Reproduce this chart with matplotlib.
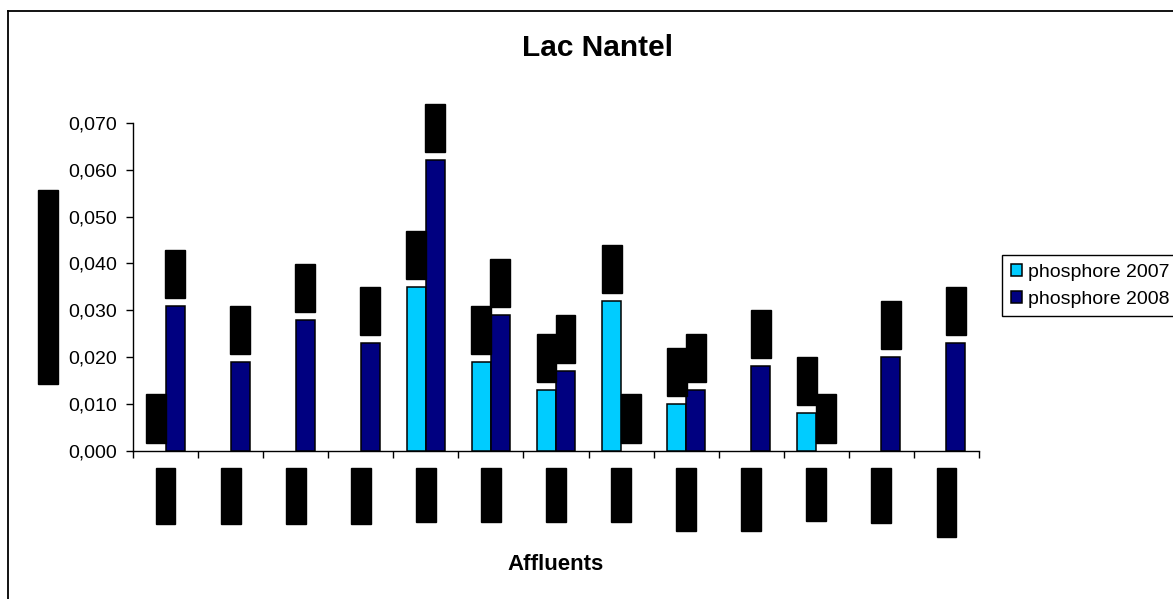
import numpy as np
import matplotlib
matplotlib.use("Agg")
import matplotlib.pyplot as plt
from matplotlib.lines import Line2D
from matplotlib.patches import Patch
from matplotlib.ticker import FixedLocator, FuncFormatter

plt.rcParams["font.family"] = ["Liberation Sans", "DejaVu Sans"]

# ---- data -------------------------------------------------------------
affluents = ["NO-01", "NO-02", "NO-03", "NO-04", "NE-05", "NE-06", "NE-07",
             "NE-08", "SE-09a", "SE-10a", "SO-11", "SO-12", "Exutoire"]
phosphore_2007 = [0.000, None, None, None, 0.035, 0.019, 0.013, 0.032,
                  0.010, None, 0.008, None, None]
phosphore_2008 = [0.031, 0.019, 0.028, 0.023, 0.062, 0.029, 0.017, 0.000,
                  0.013, 0.018, 0.000, 0.020, 0.023]
series_labels = ["phosphore 2007", "phosphore 2008"]
y_ticks = [0.000, 0.010, 0.020, 0.030, 0.040, 0.050, 0.060, 0.070]
title = "Lac Nantel"
x_title = "Affluents"
y_title = "Concentration (mg/l)"

# ---- layout -------------------------------------------------------------
W, H = 1173, 599
fig = plt.figure(figsize=(W / 100, H / 100), dpi=100)
ax_left, ax_right, ax_top, ax_bottom = 133, 979, 123, 450.7
ax = fig.add_axes([ax_left / W, 1 - ax_bottom / H,
                   (ax_right - ax_left) / W, (ax_bottom - ax_top) / H])

colors = ["#00CCFF", "#000080"]
bar_w = 0.292
centers = np.arange(len(affluents)) + 0.5


def fmt(v):
    return f"{v:.3f}".replace(".", ",")


for k, (series, offset) in enumerate(((phosphore_2007, -bar_w / 2),
                                      (phosphore_2008, bar_w / 2))):
    xs = [c + offset for c, v in zip(centers, series) if v is not None]
    vs = [v for v in series if v is not None]
    bars = ax.bar(xs, vs, width=bar_w, color=colors[k], edgecolor="black",
                  linewidth=1.1, zorder=3)
    # a zero value leaves no visible bar, only its label
    for patch, v in zip(bars.patches, vs):
        if v == 0:
            patch.set_linewidth(0)
    for x, v in zip(xs, vs):
        ax.annotate(fmt(v), xy=(x, v), xytext=(0, 6.8),
                    textcoords="offset points", rotation=90,
                    ha="center", va="bottom", fontsize=13, color="black",
                    bbox=dict(boxstyle="square,pad=0.08", fc="black",
                              ec="black"),
                    annotation_clip=False, zorder=4)

# ---- axes -------------------------------------------------------------
ax.set_xlim(0, len(affluents))
ax.set_ylim(0, 0.07)
ax.set_yticks(y_ticks)
ax.yaxis.set_major_formatter(FuncFormatter(lambda v, p: fmt(v)))
ax.tick_params(axis="y", length=5, width=1, pad=6.5, labelsize=14,
               colors="black")

ax.set_xticks(centers, labels=affluents, rotation=90)
ax.tick_params(axis="x", which="major", length=0, pad=13.4, labelsize=13)
ax.xaxis.set_minor_locator(FixedLocator(np.arange(len(affluents) + 1)))
ax.tick_params(axis="x", which="minor", length=5, width=1, color="black")
for lbl in ax.get_xticklabels():
    lbl.set_bbox(dict(boxstyle="square,pad=0.08", fc="black", ec="black"))

for side in ("top", "right"):
    ax.spines[side].set_visible(False)
for side in ("left", "bottom"):
    ax.spines[side].set_color("black")
    ax.spines[side].set_linewidth(1)

ax.set_ylabel(y_title, fontsize=14, fontweight="bold",
              bbox=dict(boxstyle="square,pad=0.08", fc="black", ec="black"))
ax.yaxis.set_label_coords((48 - ax_left) / (ax_right - ax_left), 0.5)
ax.yaxis.label.set_va("center")

ax.set_xlabel(x_title, fontsize=16, fontweight="bold")
ax.xaxis.set_label_coords(0.5, -(565 - ax_bottom) / (ax_bottom - ax_top))
ax.xaxis.label.set_va("center")

fig.text(597 / W, 1 - 48.5 / H, title, ha="center", va="center",
         fontsize=21.5, fontweight="bold")

handles = [Patch(facecolor=c, edgecolor="black", linewidth=1.1)
           for c in colors]
leg = fig.legend(handles, series_labels, loc="upper left",
                 bbox_to_anchor=(1002 / W, 1 - 255 / H), fontsize=14,
                 handlelength=0.6, handleheight=0.6, handletextpad=0.3,
                 borderaxespad=0, borderpad=0.45, labelspacing=0.5,
                 fancybox=False, framealpha=1)
leg.get_frame().set_edgecolor("black")
leg.get_frame().set_linewidth(1)

# chart area frame
fy = 1 - 11 / H
fx = 8 / W
fig.add_artist(Line2D([fx, fx], [0, fy], color="black", lw=1.3))
fig.add_artist(Line2D([fx, 1], [fy, fy], color="black", lw=1.3))

fig.savefig("out.png", dpi=100)
